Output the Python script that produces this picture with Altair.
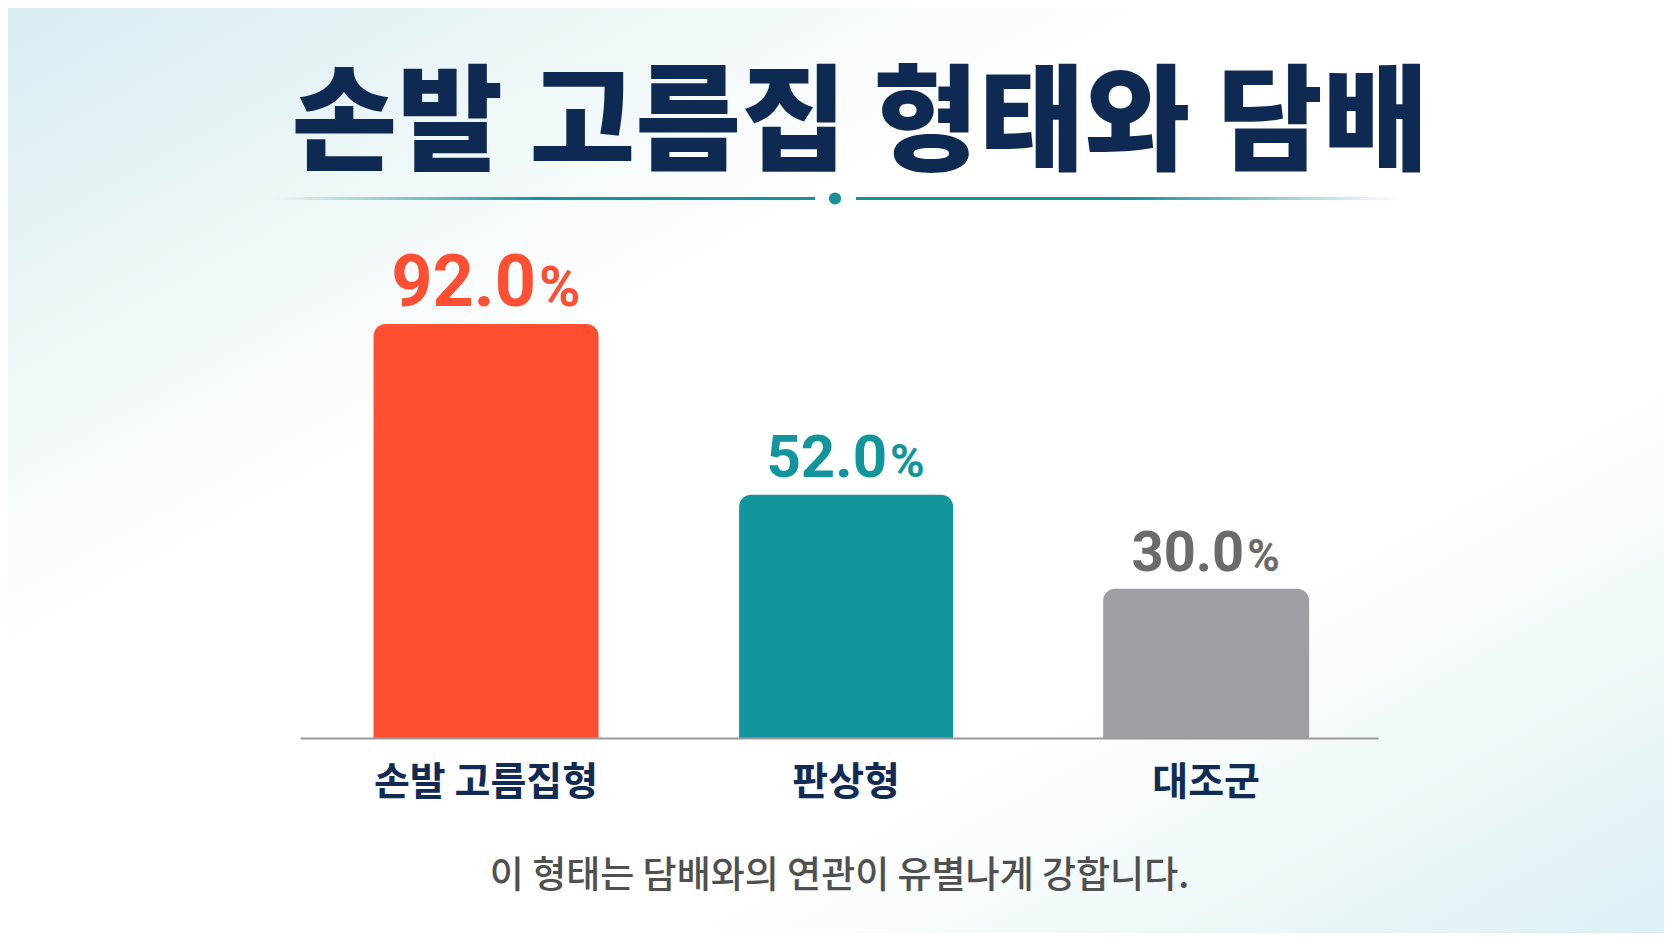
import altair as alt
import pandas as pd

# chart values
groups = ["손발 고름집형", "판상형", "대조군"]
rates = [92.0, 52.0, 30.0]

title_text = "손발 고름집 형태와 담배"
note_text = "이 형태는 담배와의 연관이 유별나게 강합니다."

# per-bar styling
bar_colors = ["#ff4f33", "#12969d", "#9d9fa4"]
label_colors = ["#ff4f33", "#12969d", "#6b6b6e"]
bar_widths = [225, 214, 206]
label_sizes = [72, 60, 56]
num_dx = [50, 41, 38]
pct_dx = [53, 44, 41]

W, H = 1078, 438
PAD = {"left": 292, "top": 292, "right": 286, "bottom": 195}

df = pd.DataFrame({"group": groups, "rate": rates})
one = pd.DataFrame({"k": [0]})

x_enc = alt.X(
    "group:N",
    sort=groups,
    scale=alt.Scale(paddingInner=0.4, paddingOuter=0.197, align=0.55),
    axis=alt.Axis(
        title=note_text,
        labelAngle=0,
        labelLimit=600,
        labelFont="Noto Sans CJK KR",
        labelFontSize=39,
        labelFontWeight="bold",
        labelColor="#112b55",
        labelPadding=25,
        ticks=False,
        tickSize=0,
        domainColor="#9a9a9a",
        domainWidth=2,
        grid=False,
        titleFont="Noto Sans CJK KR",
        titleFontSize=37,
        titleFontWeight=500,
        titleColor="#505050",
        titlePadding=56,
        titleLimit=1200,
        zindex=1,
    ),
)
y_scale = alt.Scale(domain=[-4.9, 97.6], nice=False, zero=False)
y_enc = alt.Y("rate:Q", scale=y_scale, axis=None)

# soft page background
bg = alt.Chart(one).mark_rect(
    color=alt.Gradient(
        gradient="linear", x1=0, y1=0, x2=1, y2=1,
        stops=[
            alt.GradientStop(color="#d8edf0", offset=0),
            alt.GradientStop(color="#ffffff", offset=0.35),
            alt.GradientStop(color="#ffffff", offset=0.7),
            alt.GradientStop(color="#dcf0f3", offset=1),
        ],
    )
).encode(
    x=alt.value(-PAD["left"]), x2=alt.value(W + PAD["right"]),
    y=alt.value(-PAD["top"]), y2=alt.value(H + PAD["bottom"]),
)

# heading and divider under it
heading = alt.Chart(one).mark_text(
    text=title_text, align="center", baseline="alphabetic",
    font="Noto Sans CJK KR", fontSize=115, fontWeight=900, color="#0f2a52",
).encode(x=alt.value(560), y=alt.value(-139))

teal = "#17919a"
line_l = alt.Chart(one).mark_rect(
    color=alt.Gradient(gradient="linear", x1=0, y1=0, x2=1, y2=0,
                       stops=[alt.GradientStop(color="rgba(23,145,154,0)", offset=0),
                              alt.GradientStop(color=teal, offset=0.5),
                              alt.GradientStop(color=teal, offset=1)])
).encode(x=alt.value(-28), x2=alt.value(515), y=alt.value(-103), y2=alt.value(-100))
line_r = alt.Chart(one).mark_rect(
    color=alt.Gradient(gradient="linear", x1=0, y1=0, x2=1, y2=0,
                       stops=[alt.GradientStop(color=teal, offset=0),
                              alt.GradientStop(color=teal, offset=0.5),
                              alt.GradientStop(color="rgba(23,145,154,0)", offset=1)])
).encode(x=alt.value(556), x2=alt.value(1100), y=alt.value(-103), y2=alt.value(-100))
dot = alt.Chart(one).mark_circle(color=teal, opacity=1, size=150).encode(
    x=alt.value(535), y=alt.value(-101.5)
)

layers = [bg, heading, line_l, line_r, dot]

for i, g in enumerate(groups):
    sel = alt.Chart(df).transform_filter(alt.datum.group == g)
    bar = sel.mark_bar(
        width=bar_widths[i], color=bar_colors[i],
        cornerRadiusTopLeft=12, cornerRadiusTopRight=12,
    ).encode(x=x_enc, y=y_enc, y2=alt.datum(-4.9))
    num = sel.mark_text(
        align="right", baseline="alphabetic", dx=num_dx[i], dy=-18,
        font="Roboto", fontWeight="bold", fontSize=label_sizes[i], color=label_colors[i],
    ).encode(x=x_enc, y=y_enc, text=alt.Text("rate:Q", format=".1f"))
    pct = sel.mark_text(
        text="%", align="left", baseline="alphabetic", dx=pct_dx[i], dy=-18,
        font="Roboto", fontWeight="bold", fontSize=round(label_sizes[i] * 0.78),
        color=label_colors[i],
    ).encode(x=x_enc, y=y_enc)
    layers += [bar, num, pct]

chart = alt.layer(*layers).properties(
    width=W,
    height=H,
    padding=PAD,
    autosize=alt.AutoSizeParams(type="none"),
    background="white",
).configure_view(stroke=None)

chart.save("out.html", embed_options={"renderer": "svg", "actions": False})
